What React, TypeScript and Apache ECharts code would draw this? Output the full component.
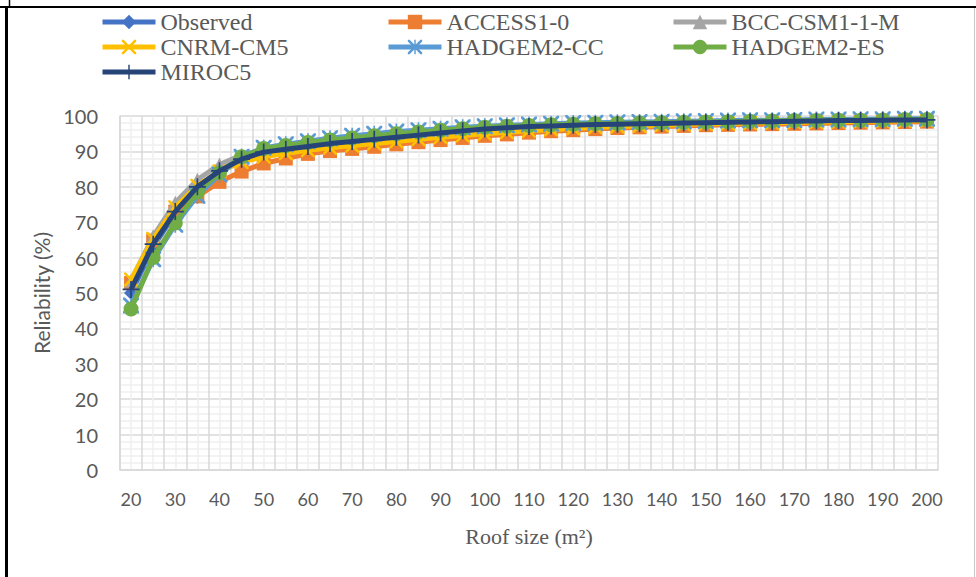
import React, { useEffect, useRef } from "react";
import * as echarts from "echarts";

const roofSizes = [20,25,30,35,40,45,50,55,60,65,70,75,80,85,90,95,100,105,110,115,120,125,130,135,140,145,150,155,160,165,170,175,180,185,190,195,200];
const xTickLabels = roofSizes.map(String);
const yTicks = [0,10,20,30,40,50,60,70,80,90,100];

const observed = [50,63,72.5,79.5,84,87.5,89.6,90.5,91.3,92.1,92.7,93.3,93.9,94.5,95.1,95.7,96.2,96.6,96.9,97.2,97.4,97.6,97.7,97.8,97.9,98,98.1,98.2,98.3,98.4,98.5,98.6,98.7,98.7,98.8,98.9,98.9];
const access10 = [52.8,64.8,73,77.3,81.4,84.3,86.6,88,89.3,90.1,90.7,91.3,92,92.6,93.2,93.8,94.4,94.8,95.3,95.7,96,96.3,96.6,96.8,97,97.2,97.4,97.5,97.6,97.7,97.8,97.9,98,98.1,98.2,98.3,98.4];
const bccCsm = [53.5,66,75.5,82,86.3,89,90.5,91.3,92,92.6,93.2,93.7,94.3,94.8,95.4,95.9,96.4,96.8,97.1,97.3,97.5,97.7,97.8,97.9,98,98.1,98.2,98.3,98.4,98.5,98.6,98.7,98.8,98.8,98.9,99,99];
const cnrmCm5 = [53.8,65.3,74.2,80.3,84.4,87,88.5,89.5,90.3,91,91.6,92.2,92.8,93.4,94,94.5,95,95.4,95.8,96.2,96.5,96.8,97,97.2,97.4,97.6,97.8,97.9,98,98.1,98.2,98.3,98.4,98.5,98.6,98.6,98.7];
const hadgem2Cc = [46.5,59.5,69.3,77.5,83.5,88.5,91,92,92.9,93.7,94.4,95,95.6,96,96.4,96.8,97.1,97.4,97.6,97.8,98,98.1,98.2,98.3,98.4,98.5,98.6,98.7,98.8,98.8,98.9,99,99,99.1,99.1,99.2,99.2];
const hadgem2Es = [45.5,60,69.8,78.5,84,88.5,90.8,91.7,92.5,93.2,93.8,94.4,95,95.5,96,96.4,96.8,97.1,97.3,97.5,97.7,97.8,97.9,98,98.1,98.2,98.3,98.4,98.5,98.6,98.7,98.7,98.8,98.8,98.9,99,99];
const miroc5 = [51,63.8,73,80,84.5,87.8,89.8,90.6,91.4,92.2,92.8,93.4,94,94.6,95.2,95.8,96.3,96.7,97,97.2,97.4,97.6,97.7,97.8,97.9,98,98.1,98.2,98.3,98.4,98.5,98.6,98.7,98.7,98.8,98.9,98.9];

const seriesNames = ["Observed","ACCESS1-0","BCC-CSM1-1-M","CNRM-CM5","HADGEM2-CC","HADGEM2-ES","MIROC5"];
const seriesData = [observed, access10, bccCsm, cnrmCm5, hadgem2Cc, hadgem2Es, miroc5];

const X_PATH = "path://M0,0 L2.5,0 L10,7.5 L17.5,0 L20,0 L20,2.5 L12.5,10 L20,17.5 L20,20 L17.5,20 L10,12.5 L2.5,20 L0,20 L0,17.5 L7.5,10 L0,2.5 Z";
const AST_PATH = "path://M0,0 L2.5,0 L10,7.5 L17.5,0 L20,0 L20,2.5 L12.5,10 L20,17.5 L20,20 L17.5,20 L10,12.5 L2.5,20 L0,20 L0,17.5 L7.5,10 L0,2.5 Z M9,0 L11,0 L11,20 L9,20 Z";
const PLUS_PATH = "path://M9,0 L11,0 L11,9 L20,9 L20,11 L11,11 L11,20 L9,20 L9,11 L0,11 L0,9 L9,9 Z";

const styles = [
  { color: "#4472C4", symbol: "diamond", size: 14 },
  { color: "#ED7D31", symbol: "rect", size: 14 },
  { color: "#A5A5A5", symbol: "triangle", size: 14 },
  { color: "#FFC000", symbol: X_PATH, size: 14 },
  { color: "#5B9BD5", symbol: AST_PATH, size: 16 },
  { color: "#70AD47", symbol: "circle", size: 15 },
  { color: "#264478", symbol: PLUS_PATH, size: 17 },
];

const serifFont = "'Liberation Serif', serif";
const sansFont = "Lato, 'Noto Sans', sans-serif";

export default function App() {
  const ref = useRef<HTMLDivElement>(null);
  useEffect(() => {
    if (!ref.current) return;
    const chart = echarts.init(ref.current, null, { renderer: "svg" });
    const legendCommon = {
      orient: "vertical",
      padding: 0,
      itemWidth: 53,
      itemHeight: 18,
      itemGap: 1,
      lineStyle: { width: 5 },
      textStyle: { fontFamily: serifFont, fontSize: 24, color: "#595959", lineHeight: 24 },
    };
    chart.setOption({
      animation: false,
      backgroundColor: "#ffffff",
      legend: [
        { ...legendCommon, left: 100, top: 10, data: ["Observed", "CNRM-CM5", "MIROC5"] },
        { ...legendCommon, left: 386, top: 10, data: ["ACCESS1-0", "HADGEM2-CC"] },
        { ...legendCommon, left: 671, top: 10, data: ["BCC-CSM1-1-M", "HADGEM2-ES"] },
      ],
      grid: { left: 120, top: 116, width: 818, height: 354, containLabel: false },
      xAxis: [
        {
          type: "category",
          data: xTickLabels,
          boundaryGap: true,
          name: "Roof size (m²)",
          nameLocation: "middle",
          nameGap: 55,
          nameTextStyle: { fontFamily: serifFont, fontSize: 22, color: "#595959" },
          axisLine: { show: true, lineStyle: { color: "#d9d9d9", width: 1.5 } },
          axisTick: { show: false },
          axisLabel: { interval: 1, margin: 20, fontFamily: sansFont, fontSize: 18, color: "#595959" },
          splitLine: { show: false },
        },
        {
          type: "value",
          position: "top",
          min: 0,
          max: roofSizes.length,
          interval: 1,
          axisLine: { show: false },
          axisTick: { show: false },
          axisLabel: { show: false },
          splitLine: { show: true, lineStyle: { color: "#d9d9d9", width: 1.5 } },
          minorTick: { show: false, splitNumber: 2 },
          minorSplitLine: { show: true, lineStyle: { color: "#efefef", width: 1.5 } },
        },
      ],
      yAxis: {
        type: "value",
        min: yTicks[0],
        max: yTicks[yTicks.length - 1],
        interval: 10,
        name: "Reliability (%)",
        nameLocation: "middle",
        nameRotate: 90,
        nameGap: 66,
        nameTextStyle: { fontFamily: sansFont, fontSize: 21, color: "#595959" },
        axisLine: { show: true, lineStyle: { color: "#d9d9d9", width: 1.5 } },
        axisTick: { show: false },
        axisLabel: { margin: 22, fontFamily: sansFont, fontSize: 20, color: "#595959" },
        splitLine: { show: true, lineStyle: { color: "#d9d9d9", width: 1.5 } },
        minorTick: { show: false, splitNumber: 5 },
        minorSplitLine: { show: true, lineStyle: { color: "#efefef", width: 1.5 } },
      },
      series: seriesNames.map((name, i) => ({
        name,
        type: "line",
        xAxisIndex: 0,
        data: seriesData[i],
        symbol: styles[i].symbol,
        symbolSize: styles[i].size,
        showAllSymbol: true,
        lineStyle: { color: styles[i].color, width: 5 },
        itemStyle: { color: styles[i].color },
        z: 2 + i,
      })),
      graphic: [
        { type: "line", shape: { x1: 0, y1: 7, x2: 976, y2: 7 }, style: { stroke: "#000", lineWidth: 2 } },
        { type: "line", shape: { x1: 6.5, y1: 6, x2: 6.5, y2: 577 }, style: { stroke: "#000", lineWidth: 3 } },
        { type: "line", shape: { x1: 9.5, y1: 0, x2: 9.5, y2: 7 }, style: { stroke: "#000", lineWidth: 1.5 } },
        { type: "line", shape: { x1: 974.5, y1: 8, x2: 974.5, y2: 577 }, style: { stroke: "#c8c8c8", lineWidth: 1 } },
      ],
    });
    return () => chart.dispose();
  }, []);
  return (
    <div
      ref={ref}
      style={{ position: "fixed", left: 0, top: 0, width: 976, height: 577 }}
    />
  );
}
